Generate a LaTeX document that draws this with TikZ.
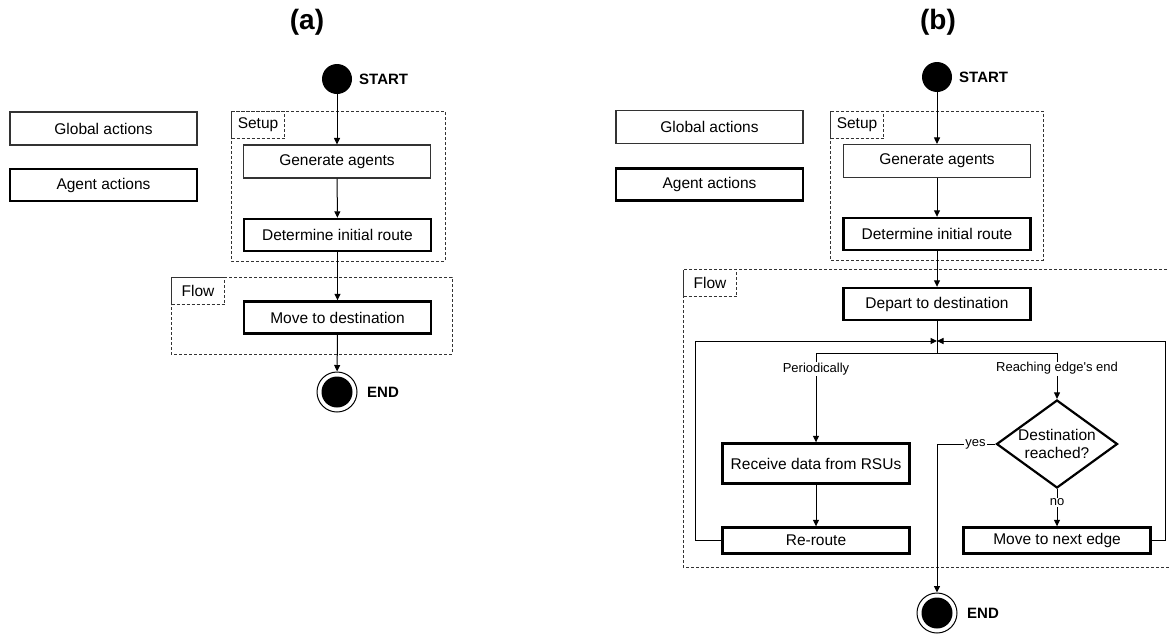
\documentclass[tikz,border=0pt]{standalone}
\usepackage{fontspec}
\setmainfont{Liberation Sans}
\usetikzlibrary{arrows.meta,shapes.geometric,calc}
\begin{document}
\begin{tikzpicture}[x=1pt,y=-1pt,
  boxfont/.style={font=\fontsize{15.5}{17.5}\selectfont},
  gbox/.style={draw=black!80, line width=1.1pt, minimum width=187pt, minimum height=33pt, inner sep=0pt, boxfont},
  abox/.style={draw=black, line width=2.4pt, minimum width=187pt, minimum height=32pt, inner sep=0pt, boxfont},
  grp/.style={draw=black!80, line width=1pt, dash pattern=on 3pt off 2pt},
  grplbl/.style={grp, anchor=north west, minimum width=53pt, minimum height=27pt, inner sep=0pt, boxfont},
  arr/.style={-{Triangle[length=6.5pt,width=6pt]}, line width=1pt},
  ln/.style={line width=1pt},
  startdot/.style={circle, fill=black, minimum size=30pt, inner sep=0pt},
  enddot/.style={circle, draw=black, line width=1pt, minimum size=40pt, inner sep=0pt,
     path picture={\fill[black] (path picture bounding box.center) circle (15.5pt);}},
  tag/.style={font=\fontsize{15}{17}\selectfont\bfseries, anchor=west, inner sep=0pt},
  lbl/.style={font=\fontsize{13}{15}\selectfont, fill=white, inner sep=1pt},
  ttl/.style={font=\fontsize{28}{32}\selectfont\bfseries}
]
\useasboundingbox (0,0) rectangle (1169,635);

% ---------------- Panel (a) ----------------
\node[ttl] (ta) at (307,22) {(a)};
\node[gbox] (ga) at (103.5,128.5) {Global actions};
\node[abox] (aa) at (103.5,185) {Agent actions};

\draw[grp] (231,111) rectangle (445,261);
\node[grplbl] (setupa) at (231,111) {Setup};
\draw[grp] (171,277) rectangle (452,354);
\node[grplbl] (flowa) at (171,277) {Flow};

\node[startdot] (sa) at (337,79) {};
\node[tag] (sta) at (359,79) {START};
\node[gbox] (gena) at (337,161.5) {Generate agents};
\node[abox] (deta) at (337.5,235) {Determine initial route};
\node[abox] (mova) at (337.5,317.5) {Move to destination};
\node[enddot] (ea) at (337,392) {};
\node[tag] (eta) at (367,392) {END};

\draw[arr] (sa) -- (gena);
\draw[arr] (gena) -- (deta);
\draw[arr] (deta) -- (mova);
\draw[arr] (mova) -- (ea);

% ---------------- Panel (b) ----------------
\node[ttl] (tb) at (938,22) {(b)};
\node[gbox] (gb) at (709.5,127) {Global actions};
\node[abox] (ab) at (709.5,184.5) {Agent actions};

\draw[grp] (830,111) rectangle (1043,260);
\node[grplbl] (setupb) at (830,111) {Setup};
\draw[grp] (1172,269) -- (683,269) -- (683,567) -- (1172,567);
\node[grplbl] (flowb) at (683,269) {Flow};

\node[startdot] (sb) at (937,77) {};
\node[tag] (stb) at (959,77) {START};
\node[gbox] (genb) at (937,161) {Generate agents};
\node[abox] (detb) at (937,234) {Determine initial route};
\node[abox] (dep) at (937,304) {Depart to destination};

\coordinate (J) at (937,341);
\coordinate (J2) at (937,353);

\node[abox, minimum height=40pt] (recv) at (816,463.5) {Receive data from RSUs};
\node[abox, minimum height=26pt] (rer) at (816,540.5) {Re-route};
\node[draw=black, line width=2.2pt, diamond, aspect=1.375, minimum width=121pt, minimum height=88pt,
      inner sep=0pt, align=center, font=\fontsize{15.5}{17.5}\selectfont] (dec) at (1057,444) {Destination\\reached?};
\node[abox, minimum height=26pt] (mne) at (1057,540.5) {Move to next edge};
\node[enddot] (eb) at (937,613) {};
\node[tag] (etb) at (967,613) {END};

\coordinate (PL) at (recv.north |- J2);
\coordinate (PR) at (dec.north |- J2);

\draw[arr] (sb) -- (genb);
\draw[arr] (genb) -- (detb);
\draw[arr] (detb) -- (dep);
\draw[ln] (dep) -- (J2);
\draw[ln] (PL) -- (PR);
\draw[arr] (PL) -- (recv.north) node[lbl, pos=0.18] {Periodically};
\draw[arr] (PR) -- (dec.north) node[lbl, pos=0.34] {Reaching edge\textquotesingle s end};
\draw[arr] (recv) -- (rer);
\draw[arr] (rer.west) -- ++(-26,0) |- (J);
\draw[arr] (mne.east) -- ++(14,0) |- (J);
\draw[arr] (dec.south) -- (mne.north) node[lbl, pos=0.36] {no};
\draw[arr] (dec.west) -| (eb.north) node[lbl, pos=0.17] {yes};
\end{tikzpicture}
\end{document}
